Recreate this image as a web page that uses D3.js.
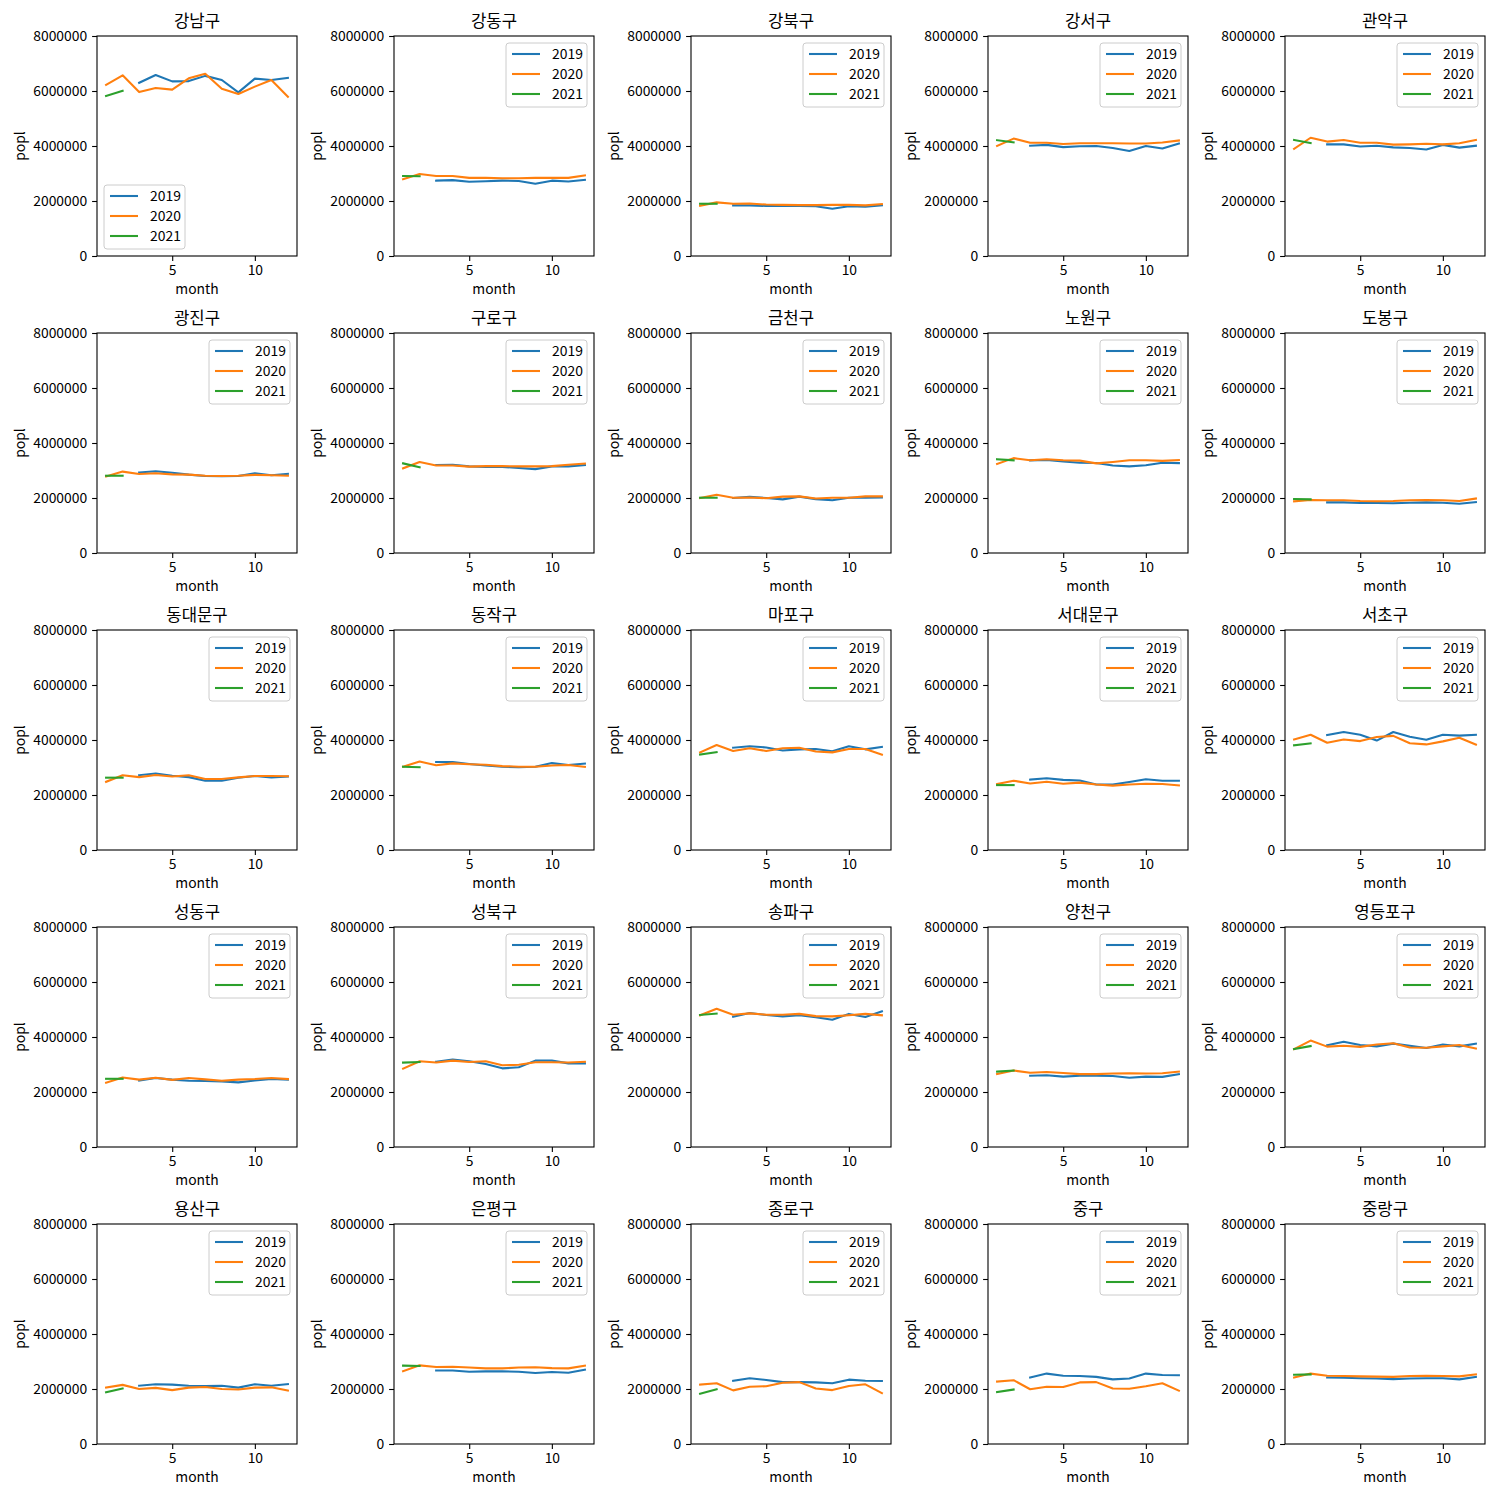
<!DOCTYPE html>
<html><head><meta charset="utf-8">
<script src="https://cdn.jsdelivr.net/npm/d3@7"></script>
<style>body{margin:0;background:#fff}</style>
</head><body>
<script>
const districts = ["강남구","강동구","강북구","강서구","관악구","광진구","구로구","금천구","노원구","도봉구","동대문구","동작구","마포구","서대문구","서초구","성동구","성북구","송파구","양천구","영등포구","용산구","은평구","종로구","중구","중랑구"];
const years = ["2019","2020","2021"];
const months2019 = [3,4,5,6,7,8,9,10,11,12];
const months2020 = [1,2,3,4,5,6,7,8,9,10,11,12];
const months2021 = [1,2];
// values in millions of people
const pop2019 = [
 [6.30,6.58,6.35,6.36,6.55,6.40,5.95,6.45,6.40,6.48],
 [2.74,2.76,2.70,2.72,2.74,2.73,2.63,2.74,2.71,2.77],
 [1.84,1.84,1.82,1.83,1.82,1.81,1.72,1.81,1.79,1.84],
 [4.01,4.04,3.96,3.99,4.00,3.93,3.82,4.00,3.91,4.09],
 [4.06,4.06,3.98,4.01,3.95,3.93,3.87,4.04,3.94,4.01],
 [2.93,2.97,2.92,2.85,2.80,2.79,2.80,2.90,2.83,2.88],
 [3.20,3.21,3.15,3.13,3.13,3.09,3.05,3.15,3.15,3.20],
 [2.00,2.04,2.00,1.95,2.05,1.96,1.92,2.01,2.01,2.02],
 [3.37,3.38,3.33,3.28,3.27,3.18,3.15,3.19,3.28,3.27],
 [1.84,1.84,1.82,1.82,1.81,1.83,1.84,1.83,1.79,1.85],
 [2.72,2.78,2.70,2.65,2.52,2.52,2.63,2.69,2.64,2.67],
 [3.20,3.20,3.13,3.07,3.03,3.01,3.03,3.16,3.09,3.14],
 [3.72,3.77,3.73,3.62,3.66,3.67,3.59,3.77,3.66,3.75],
 [2.56,2.61,2.55,2.53,2.38,2.38,2.47,2.57,2.52,2.52],
 [4.18,4.29,4.19,3.98,4.29,4.12,4.01,4.19,4.16,4.19],
 [2.42,2.51,2.45,2.41,2.40,2.38,2.35,2.42,2.47,2.45],
 [3.10,3.18,3.12,3.02,2.86,2.90,3.14,3.14,3.04,3.04],
 [4.74,4.87,4.80,4.75,4.79,4.72,4.63,4.84,4.73,4.93],
 [2.59,2.61,2.56,2.59,2.59,2.58,2.52,2.56,2.55,2.65],
 [3.70,3.83,3.71,3.66,3.76,3.68,3.60,3.73,3.66,3.76],
 [2.12,2.17,2.16,2.12,2.11,2.12,2.05,2.17,2.12,2.18],
 [2.67,2.67,2.63,2.64,2.64,2.63,2.58,2.62,2.59,2.70],
 [2.30,2.39,2.33,2.25,2.25,2.24,2.21,2.34,2.30,2.29],
 [2.42,2.56,2.48,2.47,2.44,2.35,2.38,2.56,2.51,2.50],
 [2.42,2.41,2.39,2.38,2.36,2.38,2.39,2.39,2.35,2.44]
];
const pop2020 = [
 [6.22,6.57,5.96,6.11,6.05,6.46,6.63,6.08,5.89,6.16,6.40,5.79],
 [2.79,2.98,2.91,2.91,2.84,2.84,2.83,2.83,2.84,2.84,2.84,2.93],
 [1.83,1.95,1.90,1.91,1.87,1.86,1.85,1.85,1.86,1.86,1.84,1.89],
 [4.00,4.27,4.12,4.12,4.07,4.10,4.10,4.10,4.09,4.09,4.13,4.20],
 [3.90,4.30,4.16,4.22,4.12,4.12,4.05,4.06,4.08,4.06,4.10,4.22],
 [2.78,2.96,2.87,2.90,2.86,2.85,2.81,2.80,2.81,2.84,2.83,2.81],
 [3.08,3.31,3.18,3.18,3.14,3.16,3.16,3.15,3.15,3.16,3.21,3.25],
 [2.00,2.12,2.01,2.02,1.99,2.05,2.06,1.98,2.01,2.01,2.06,2.06],
 [3.24,3.45,3.37,3.41,3.37,3.36,3.26,3.31,3.37,3.37,3.35,3.38],
 [1.88,1.93,1.92,1.92,1.89,1.88,1.89,1.92,1.93,1.92,1.89,1.98],
 [2.48,2.72,2.65,2.73,2.67,2.72,2.58,2.58,2.64,2.69,2.69,2.68],
 [3.03,3.22,3.08,3.15,3.12,3.10,3.05,3.03,3.03,3.07,3.09,3.02],
 [3.55,3.82,3.60,3.70,3.60,3.70,3.72,3.58,3.55,3.67,3.67,3.47],
 [2.40,2.52,2.42,2.48,2.41,2.45,2.38,2.34,2.38,2.41,2.40,2.35],
 [4.02,4.19,3.90,4.02,3.96,4.11,4.15,3.88,3.84,3.95,4.08,3.83],
 [2.34,2.53,2.45,2.52,2.44,2.51,2.46,2.41,2.45,2.47,2.51,2.47],
 [2.85,3.12,3.07,3.14,3.09,3.12,2.97,2.99,3.08,3.08,3.07,3.10],
 [4.79,5.03,4.81,4.86,4.81,4.81,4.84,4.76,4.75,4.79,4.84,4.79],
 [2.65,2.78,2.70,2.73,2.69,2.65,2.65,2.67,2.68,2.67,2.68,2.74],
 [3.56,3.87,3.65,3.68,3.64,3.73,3.77,3.62,3.61,3.66,3.71,3.58],
 [2.05,2.15,2.00,2.04,1.96,2.05,2.07,2.00,1.98,2.05,2.06,1.94],
 [2.65,2.86,2.80,2.81,2.78,2.75,2.75,2.78,2.79,2.76,2.75,2.85],
 [2.16,2.21,1.95,2.08,2.10,2.23,2.25,2.02,1.96,2.11,2.17,1.85],
 [2.27,2.32,1.99,2.08,2.07,2.24,2.25,2.02,2.01,2.10,2.21,1.94],
 [2.42,2.56,2.48,2.47,2.46,2.45,2.44,2.47,2.48,2.47,2.46,2.53]
];
const pop2021 = [
 [5.82,6.01],[2.91,2.90],[1.90,1.90],[4.21,4.13],[4.22,4.11],
 [2.81,2.81],[3.26,3.12],[2.01,2.01],[3.41,3.37],[1.96,1.95],
 [2.63,2.63],[3.03,3.01],[3.47,3.56],[2.36,2.36],[3.81,3.88],
 [2.48,2.48],[3.07,3.09],[4.80,4.85],[2.74,2.78],[3.56,3.67],
 [1.88,2.02],[2.85,2.84],[1.83,1.99],[1.89,1.98],[2.52,2.53]
];
const yTicks = [0,2000000,4000000,6000000,8000000];
const xTicks = [5,10];
const colors = ["#1f77b4","#ff7f0e","#2ca02c"];

const W = 1500, H = 1500;
const font = "'Noto Sans CJK KR', 'Noto Sans', sans-serif";
const svg = d3.select("body").append("svg").attr("width",W).attr("height",H)
  .style("font-family", font);
svg.append("rect").attr("width",W).attr("height",H).attr("fill","#fff");

const colX = [97,394,691,988,1285], rowY = [36,333,630,927,1224];
const pw = 200, ph = 220;
const x = d3.scaleLinear().domain([0.45,12.55]).range([0,pw]);
const y = d3.scaleLinear().domain([0,8000000]).range([ph,0]);
const line = d3.line().x(d=>x(d[0])).y(d=>y(d[1]));

districts.forEach((name,i)=>{
  const g = svg.append("g").attr("transform",`translate(${colX[i%5]},${rowY[Math.floor(i/5)]})`);
  const series = [
    months2019.map((m,j)=>[m,pop2019[i][j]*1e6]),
    months2020.map((m,j)=>[m,pop2020[i][j]*1e6]),
    months2021.map((m,j)=>[m,pop2021[i][j]*1e6])
  ];
  const clipId = "clip"+i;
  g.append("clipPath").attr("id",clipId).append("rect").attr("width",pw).attr("height",ph);
  const lg = g.append("g").attr("clip-path",`url(#${clipId})`);
  series.forEach((s,k)=>{
    lg.append("path").datum(s).attr("d",line).attr("fill","none")
      .attr("stroke",colors[k]).attr("stroke-width",2.08)
      .attr("stroke-linejoin","round").attr("stroke-linecap","square");
  });
  const ya = d3.axisLeft(y).tickValues(yTicks).tickFormat(d3.format("d")).tickSize(4.9).tickPadding(4.9);
  const xa = d3.axisBottom(x).tickValues(xTicks).tickFormat(d3.format("d")).tickSize(4.9).tickPadding(4.9);
  const yg = g.append("g").call(ya);
  const xg = g.append("g").attr("transform",`translate(0,${ph})`).call(xa);
  [yg,xg].forEach(a=>{
    a.select(".domain").remove();
    a.selectAll("line").attr("stroke","#000").attr("stroke-width",1.1);
    a.selectAll("text").attr("fill","#000").style("font-size","13.9px").style("font-family",font);
  });
  xg.selectAll("text").attr("dy","0.67em");
  g.append("rect").attr("width",pw).attr("height",ph).attr("fill","none")
    .attr("stroke","#000").attr("stroke-width",1.1);
  g.append("text").attr("x",pw/2).attr("y",-9).attr("text-anchor","middle")
    .style("font-size","16.7px").attr("fill","#000").text(name);
  g.append("text").attr("x",pw/2).attr("y",ph+38).attr("text-anchor","middle")
    .style("font-size","13.9px").attr("fill","#000").text("month");
  g.append("text").attr("transform",`translate(-72,${ph/2}) rotate(-90)`).attr("text-anchor","middle")
    .style("font-size","13.9px").attr("fill","#000").text("popl");
  const lw = 81, lh = 64;
  const lx = i===0 ? 7 : pw-7-lw;
  const ly = i===0 ? ph-7-lh : 7;
  const leg = g.append("g").attr("transform",`translate(${lx},${ly})`);
  leg.append("rect").attr("width",lw).attr("height",lh).attr("rx",3)
    .attr("fill","#fff").attr("fill-opacity",0.8).attr("stroke","#cccccc").attr("stroke-width",1);
  years.forEach((yr,k)=>{
    const cy = 11+k*20;
    leg.append("line").attr("x1",6).attr("x2",34).attr("y1",cy).attr("y2",cy)
      .attr("stroke",colors[k]).attr("stroke-width",2.08);
    leg.append("text").attr("x",46).attr("y",cy+5).style("font-size","13.9px")
      .attr("fill","#000").text(yr);
  });
});
</script>
</body></html>
